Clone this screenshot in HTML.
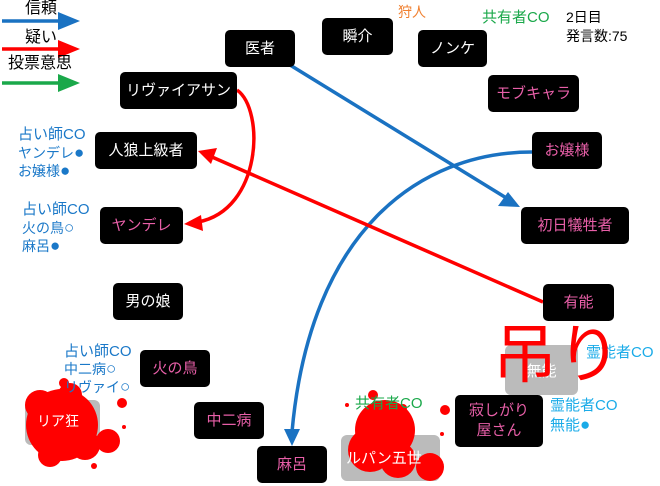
<!DOCTYPE html><html><head><meta charset="utf-8"><style>
body{margin:0;width:660px;height:486px;background:#fff;position:relative;overflow:hidden;font-family:"Liberation Sans","Noto Sans CJK JP",sans-serif}
.n{position:absolute;background:#000;border-radius:5px;color:#fff;font-size:15px;display:flex;align-items:center;justify-content:center;text-align:center;line-height:20px}
.p{color:#e85fa8}
.g{position:absolute;background:#bbb;border-radius:6px;color:#fff;font-size:15px;display:flex;align-items:center;justify-content:center}
.t{position:absolute;font-size:14px;line-height:17px;white-space:nowrap}
.b{color:#1a78c8}.c{color:#1aabe8}
.d{font-size:17px}
svg{position:absolute;left:0;top:0}
</style></head><body>
<div class="g" style="left:25px;top:400px;width:75px;height:45px"></div>
<div class="g" style="left:505px;top:345px;width:73px;height:50px">無能</div>
<div class="g" style="left:341px;top:435px;width:99px;height:46px"></div>
<svg width="660" height="486">
<g fill="#f00">
<circle cx="62" cy="425" r="36"/><circle cx="40" cy="405" r="15"/><circle cx="85" cy="445" r="15"/><circle cx="70" cy="395" r="12"/><circle cx="50" cy="455" r="12"/>
<circle cx="108" cy="441" r="12"/><circle cx="64" cy="383" r="5"/><circle cx="122" cy="403" r="5"/><circle cx="94" cy="466" r="3"/><circle cx="124" cy="427" r="2"/>
<circle cx="385" cy="430" r="30"/><circle cx="370" cy="450" r="22"/><circle cx="398" cy="460" r="18"/><circle cx="430" cy="467" r="14"/><circle cx="373" cy="395" r="5"/><circle cx="403" cy="408" r="4"/><circle cx="445" cy="410" r="5"/><circle cx="347" cy="405" r="2"/><circle cx="442" cy="434" r="2"/>
</g>
<g stroke-width="3.5" fill="none">
<line x1="290" y1="65" x2="508" y2="199" stroke="#1a72c2"/>
<path d="M532,152 C420,152 310,230 292,432" stroke="#1a72c2"/>
<line x1="543" y1="302" x2="212" y2="157" stroke="#f00"/>
<path d="M237,90 C265,110 262,210 198,222" stroke="#f00"/>
<line x1="2" y1="21" x2="60" y2="21" stroke="#1a72c2"/>
<line x1="2" y1="49" x2="60" y2="49" stroke="#f00"/>
<line x1="2" y1="83" x2="60" y2="83" stroke="#1aa84a"/>
</g>
<polygon points="520,207 498,206 508,192" fill="#1a72c2"/>
<polygon points="292,446 284,429 300,429" fill="#1a72c2"/>
<polygon points="198,151 217,148 211,164" fill="#f00"/>
<polygon points="184,224 201,215 203,231" fill="#f00"/>
<polygon points="80,21 58,12 58,30" fill="#1a72c2"/>
<polygon points="80,49 58,40 58,58" fill="#f00"/>
<polygon points="80,83 58,74 58,92" fill="#1aa84a"/>
</svg>
<div class="t" style="left:25px;top:0;font-size:16px">信頼</div>
<div class="t" style="left:25px;top:29px;font-size:16px">疑い</div>
<div class="t" style="left:8px;top:55px;font-size:16px">投票意思</div>
<div class="n" style="left:225px;top:30px;width:70px;height:37px">医者</div>
<div class="n" style="left:322px;top:18px;width:71px;height:37px">瞬介</div>
<div class="n" style="left:418px;top:30px;width:69px;height:37px">ノンケ</div>
<div class="n" style="left:120px;top:72px;width:117px;height:37px">リヴァイアサン</div>
<div class="n p" style="left:488px;top:75px;width:91px;height:37px">モブキャラ</div>
<div class="n p" style="left:532px;top:132px;width:70px;height:37px">お嬢様</div>
<div class="n" style="left:95px;top:132px;width:102px;height:37px">人狼上級者</div>
<div class="n p" style="left:100px;top:207px;width:83px;height:37px">ヤンデレ</div>
<div class="n p" style="left:521px;top:207px;width:108px;height:37px">初日犠牲者</div>
<div class="n" style="left:113px;top:283px;width:70px;height:37px">男の娘</div>
<div class="n p" style="left:543px;top:284px;width:71px;height:37px">有能</div>
<div class="n p" style="left:140px;top:350px;width:70px;height:37px">火の鳥</div>
<div class="n p" style="left:194px;top:402px;width:70px;height:37px">中二病</div>
<div class="n p" style="left:257px;top:446px;width:70px;height:37px">麻呂</div>
<div class="n p" style="left:455px;top:395px;width:88px;height:52px">寂しがり<br>屋さん</div>
<div class="t" style="left:37px;top:413px;color:#fff;font-size:14px">リア狂</div>
<div class="t" style="left:346px;top:450px;color:#fff;font-size:15px">ルパン五世</div>
<div class="t" style="left:398px;top:4px;color:#f08030">狩人</div>
<div class="t" style="left:482px;top:9px;color:#1aa84a;font-size:15px">共有者CO</div>
<div class="t" style="left:566px;top:8px;font-size:14px;line-height:19px">2日目<br>発言数:75</div>
<div class="t b" style="left:18px;top:125px;line-height:18px"><span style="font-size:15px">占い師CO</span><br>ヤンデレ<span class="d">●</span><br>お嬢様<span class="d">●</span></div>
<div class="t b" style="left:22px;top:200px;line-height:18px"><span style="font-size:15px">占い師CO</span><br>火の鳥<span class="d">○</span><br>麻呂<span class="d">●</span></div>
<div class="t b" style="left:64px;top:343px;line-height:17px"><span style="font-size:15px">占い師CO</span><br>中二病<span class="d">○</span><br>リヴァイ<span class="d">○</span></div>
<div class="t" style="left:355px;top:395px;color:#1aa84a;font-size:15px">共有者CO</div>
<div class="t c" style="left:586px;top:344px;font-size:15px">霊能者CO</div>
<div class="t c" style="left:550px;top:396px;line-height:19px;font-size:15px">霊能者CO<br>無能<span class="d">●</span></div>
<div class="t" style="left:493px;top:320px;color:#f00;font-size:64px;line-height:70px">吊り</div>
</body></html>
